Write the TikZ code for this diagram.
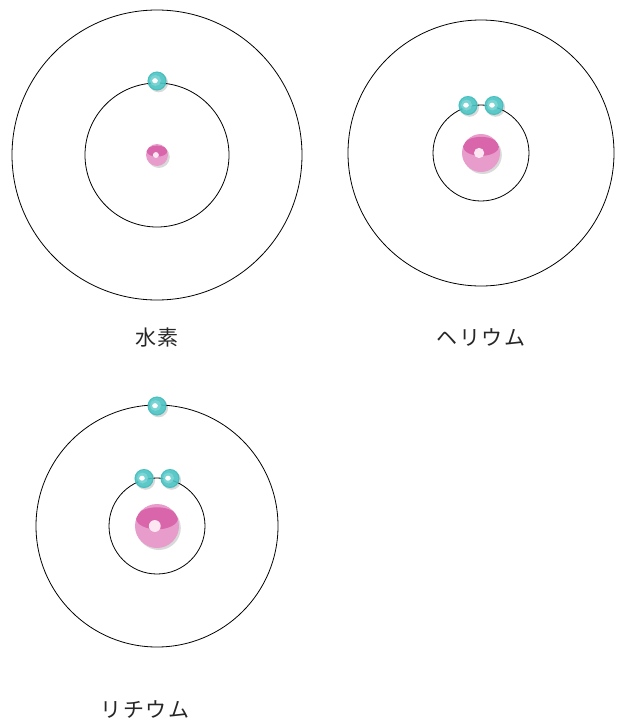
\documentclass[tikz,border=0pt]{standalone}
\usepackage{fontspec}
\newfontfamily\jpfont{Noto Sans CJK JP}
\usetikzlibrary{calc}
\definecolor{tealdark}{HTML}{35B4B4}
\definecolor{tealmid}{HTML}{4CC6C6}
\definecolor{teallight}{HTML}{86D9D9}
\definecolor{pinkdark}{HTML}{D965AA}
\definecolor{pinklight}{HTML}{E79CCB}
\definecolor{pinkdot}{HTML}{FBE6F2}
\tikzset{
  orbit/.style={draw=black, line width=0.8pt},
  lbl/.style={font=\jpfont\fontsize{21}{24}\selectfont\addfontfeature{LetterSpace=8}, text=black!85},
  pics/electron/.style={code={
    \fill[black, opacity=0.15] (1.6,1.8) circle (9.5);
    \fill[tealmid, opacity=0.88] (0,0) circle (9.5);
    \draw[tealdark, line width=1pt, opacity=0.5] (0,0) circle (8.9);
    \fill[teallight, opacity=0.75] (-1.5,-0.5) circle (5.5);
    \fill[white] (-2,-0.3) ellipse (2.8 and 2.5);
  }},
  pics/nucleus/.style={code={
    \fill[black, opacity=0.15] (1.8,2) circle (#1);
    \fill[pinklight] (0,0) circle (#1);
    \begin{scope}
      \clip (0,0) circle (#1);
      \fill[pinkdark] (0,-0.35*#1) ellipse ({0.95*#1} and {0.5*#1});
    \end{scope}
    \fill[pinkdot] (-0.1*#1,0) circle ({0.27*#1});
  }},
}
\begin{document}
\begin{tikzpicture}[x=1pt, y=-1pt]
\useasboundingbox (0,0) rectangle (617,723);
\fill[white] (0,0) rectangle (617,723);

% hydrogen
\coordinate (hc) at (157,155);
\draw[orbit] (hc) circle (145);
\draw[orbit] (hc) circle (72);
\pic at (157,81) {electron};
\pic at (hc) {nucleus=11};
\node[lbl] (hl) at (157,338) {水素};

% helium
\coordinate (hec) at (481,153);
\draw[orbit] (hec) circle (133);
\draw[orbit] (hec) circle (48);
\pic at (468,105.5) {electron};
\pic at (494,105.5) {electron};
\pic at (hec) {nucleus=19};
\node[lbl] (hel) at (481,338) {ヘリウム};

% lithium
\coordinate (lc) at (157,526);
\draw[orbit] (lc) circle (121);
\draw[orbit] (lc) circle (48);
\pic at (157,406) {electron};
\pic at (144,478.5) {electron};
\pic at (170,478.5) {electron};
\pic at (lc) {nucleus=22};
\node[lbl] (ll) at (145,710) {リチウム};
\end{tikzpicture}
\end{document}
